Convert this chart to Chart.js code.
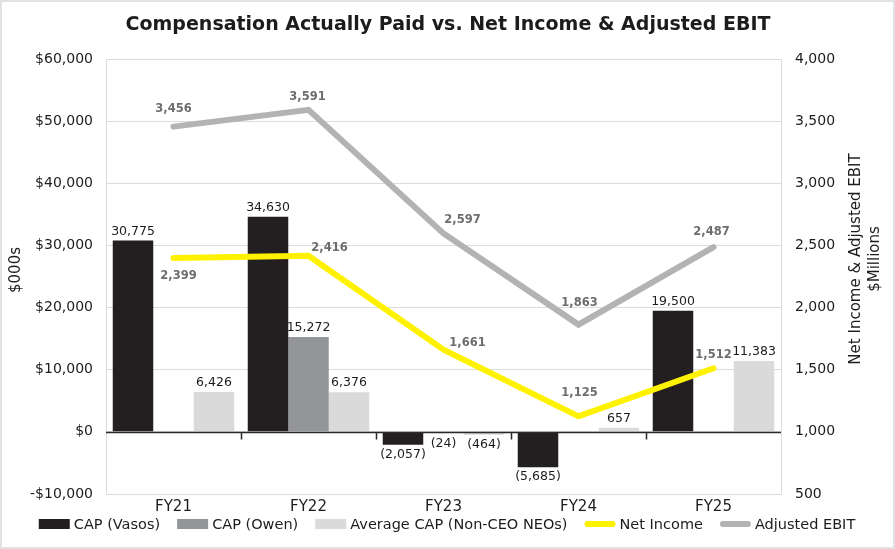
<!DOCTYPE html>
<html>
<head>
<meta charset="utf-8">
<script src="https://cdn.jsdelivr.net/npm/chart.js@4.4.1/dist/chart.umd.min.js"></script>
<style>
  html, body { margin: 0; padding: 0; background: #fff; }
  canvas { display: block; }
</style>
</head>
<body>
<canvas id="capChart" width="895" height="549"></canvas>
<script>
const categories = ['FY21', 'FY22', 'FY23', 'FY24', 'FY25'];
const capVasos = [30775, 34630, -2057, -5685, 19500];
const capOwen = [null, 15272, -24, null, null];
const capAverage = [6426, 6376, -464, 657, 11383];
const netIncome = [2399, 2416, 1661, 1125, 1512];
const adjustedEbit = [3456, 3591, 2597, 1863, 2487];
const leftTicks = [-10000, 0, 10000, 20000, 30000, 40000, 50000, 60000];
const rightTicks = [500, 1000, 1500, 2000, 2500, 3000, 3500, 4000];

const FONT = '"DejaVu Sans", "Open Sans", sans-serif';
const INK = '#1c1c1c';

function fmtNum(v) {
    const s = Math.abs(v).toLocaleString('en-US');
    return v < 0 ? '(' + s + ')' : s;
}

// background + outer frame, titles and legend
const framePlugin = {
    id: 'frame',
    beforeDraw(chart) {
        const ctx = chart.ctx;
        ctx.save();
        ctx.fillStyle = '#fff';
        ctx.fillRect(0, 0, chart.width, chart.height);
        ctx.strokeStyle = '#e2e2e2';
        ctx.lineWidth = 2;
        ctx.strokeRect(1, 1, chart.width - 2, chart.height - 2);
        ctx.restore();
    },
    afterDraw(chart) {
        const ctx = chart.ctx;
        ctx.save();
        ctx.fillStyle = INK;
        ctx.textAlign = 'center';
        ctx.textBaseline = 'middle';

        // title
        ctx.font = 'bold 19px ' + FONT;
        ctx.fillText('Compensation Actually Paid vs. Net Income & Adjusted EBIT', 448, 25);

        // left axis title
        ctx.font = '15px ' + FONT;
        ctx.save();
        ctx.translate(16, 270);
        ctx.rotate(-Math.PI / 2);
        ctx.fillText('$000s', 0, 0);
        ctx.restore();

        // right axis title
        ctx.save();
        ctx.translate(856, 259);
        ctx.rotate(-Math.PI / 2);
        ctx.fillText('Net Income & Adjusted EBIT', 0, 0);
        ctx.fillText('$Millions', 0, 19);
        ctx.restore();

        // legend
        const items = chart.data.datasets.map(ds => ({
            text: ds.label,
            color: ds.type === 'bar' ? ds.backgroundColor : ds.borderColor,
            line: ds.type === 'line'
        }));
        ctx.font = '14.5px ' + FONT;
        const swW = 31, gapIn = 4, gapOut = 17;
        let total = 0;
        items.forEach((it, i) => {
            it.w = ctx.measureText(it.text).width;
            total += swW + gapIn + it.w + (i < items.length - 1 ? gapOut : 0);
        });
        let x = 447 - total / 2;
        const ly = 524;
        ctx.textAlign = 'left';
        items.forEach(it => {
            if (it.line) {
                ctx.strokeStyle = it.color;
                ctx.lineWidth = 6;
                ctx.lineCap = 'round';
                ctx.beginPath();
                ctx.moveTo(x + 3, ly);
                ctx.lineTo(x + swW - 3, ly);
                ctx.stroke();
            } else {
                ctx.fillStyle = it.color;
                ctx.fillRect(x, ly - 5, swW, 10);
            }
            ctx.fillStyle = INK;
            ctx.fillText(it.text, x + swW + gapIn, ly + 1);
            x += swW + gapIn + it.w + gapOut;
        });
        ctx.restore();
    }
};

// dark zero line with tick marks between categories
const zeroLinePlugin = {
    id: 'zeroLine',
    afterDatasetsDraw(chart) {
        const ctx = chart.ctx;
        const area = chart.chartArea;
        const xs = chart.scales.x;
        const y0 = Math.round(chart.scales.y.getPixelForValue(0)) + 0.5;
        ctx.save();
        ctx.strokeStyle = '#2a2a2a';
        ctx.lineWidth = 1.5;
        ctx.beginPath();
        ctx.moveTo(area.left, y0);
        ctx.lineTo(area.right, y0);
        for (let i = 0; i < categories.length - 1; i++) {
            const bx = Math.round((xs.getPixelForValue(i) + xs.getPixelForValue(i + 1)) / 2) + 0.5;
            ctx.moveTo(bx, y0);
            ctx.lineTo(bx, y0 + 7);
        }
        ctx.stroke();
        ctx.restore();
    }
};

// value labels for bars and lines
const valueLabelPlugin = {
    id: 'valueLabels',
    afterDatasetsDraw(chart) {
        const ctx = chart.ctx;
        const y0 = chart.scales.y.getPixelForValue(0);
        ctx.save();
        ctx.textAlign = 'center';
        ctx.textBaseline = 'middle';
        chart.data.datasets.forEach((ds, i) => {
            const meta = chart.getDatasetMeta(i);
            meta.data.forEach((el, j) => {
                const v = ds.data[j];
                if (v === null || v === undefined) return;
                if (ds.type === 'bar') {
                    ctx.font = '12.5px ' + FONT;
                    ctx.fillStyle = INK;
                    const y = v >= 0 ? el.y - 9 : Math.max(el.y, y0 + 2) + 10;
                    ctx.fillText(fmtNum(v), el.x, y);
                } else {
                    const off = ds.labelOffsets[j];
                    ctx.font = 'bold 11.5px ' + FONT;
                    ctx.fillStyle = '#6d6d6d';
                    ctx.fillText(fmtNum(v), el.x + off[0], el.y + off[1]);
                }
            });
        });
        ctx.restore();
    }
};

const barCommon = {
    type: 'bar',
    yAxisID: 'y',
    order: 2,
    categoryPercentage: 0.9,
    barPercentage: 1.0
};

const lineCommon = {
    type: 'line',
    yAxisID: 'y1',
    order: 1,
    borderWidth: 6,
    borderCapStyle: 'round',
    pointRadius: 0,
    pointHoverRadius: 0,
    tension: 0,
    fill: false
};

new Chart(document.getElementById('capChart'), {
    data: {
        labels: categories,
        datasets: [
            { ...barCommon, label: 'CAP (Vasos)', data: capVasos, backgroundColor: '#231f20' },
            { ...barCommon, label: 'CAP (Owen)', data: capOwen, backgroundColor: '#939598' },
            { ...barCommon, label: 'Average CAP (Non-CEO NEOs)', data: capAverage, backgroundColor: '#dadadb' },
            { ...lineCommon, label: 'Net Income', data: netIncome, borderColor: '#fff200',
              labelOffsets: [[5, 18], [21, -8], [24, -7], [1, -23], [0, -13]] },
            { ...lineCommon, label: 'Adjusted EBIT', data: adjustedEbit, borderColor: '#b3b3b3',
              labelOffsets: [[0, -18], [-1, -13], [19, -13], [1, -22], [-2, -15]] }
        ]
    },
    options: {
        responsive: false,
        animation: false,
        layout: { padding: { top: 59, left: 0, right: 0, bottom: 0 } },
        plugins: {
            legend: { display: false },
            title: { display: false },
            tooltip: { enabled: false }
        },
        scales: {
            x: {
                grid: { display: false, drawTicks: false },
                border: { display: true, color: '#dcdcdc', width: 1 },
                ticks: { color: INK, font: { family: FONT, size: 15 }, padding: 4 },
                afterFit: s => { s.height = 55; }
            },
            y: {
                position: 'left',
                min: leftTicks[0],
                max: leftTicks[leftTicks.length - 1],
                afterBuildTicks: s => { s.ticks = leftTicks.map(v => ({ value: v })); },
                grid: { color: '#dcdcdc', drawTicks: false },
                border: { display: true, color: '#dcdcdc' },
                ticks: {
                    color: INK,
                    padding: 13,
                    font: { family: FONT, size: 14 },
                    callback: v => (v < 0 ? '-' : '') + '$' + Math.abs(v).toLocaleString('en-US')
                },
                afterFit: s => { s.width = 106; }
            },
            y1: {
                position: 'right',
                min: rightTicks[0],
                max: rightTicks[rightTicks.length - 1],
                afterBuildTicks: s => { s.ticks = rightTicks.map(v => ({ value: v })); },
                grid: { display: false, drawTicks: false },
                border: { display: true, color: '#dcdcdc' },
                ticks: {
                    color: INK,
                    padding: 14,
                    font: { family: FONT, size: 14 },
                    callback: v => v.toLocaleString('en-US')
                },
                afterFit: s => { s.width = 114; }
            }
        }
    },
    plugins: [framePlugin, zeroLinePlugin, valueLabelPlugin]
});
</script>
</body>
</html>
